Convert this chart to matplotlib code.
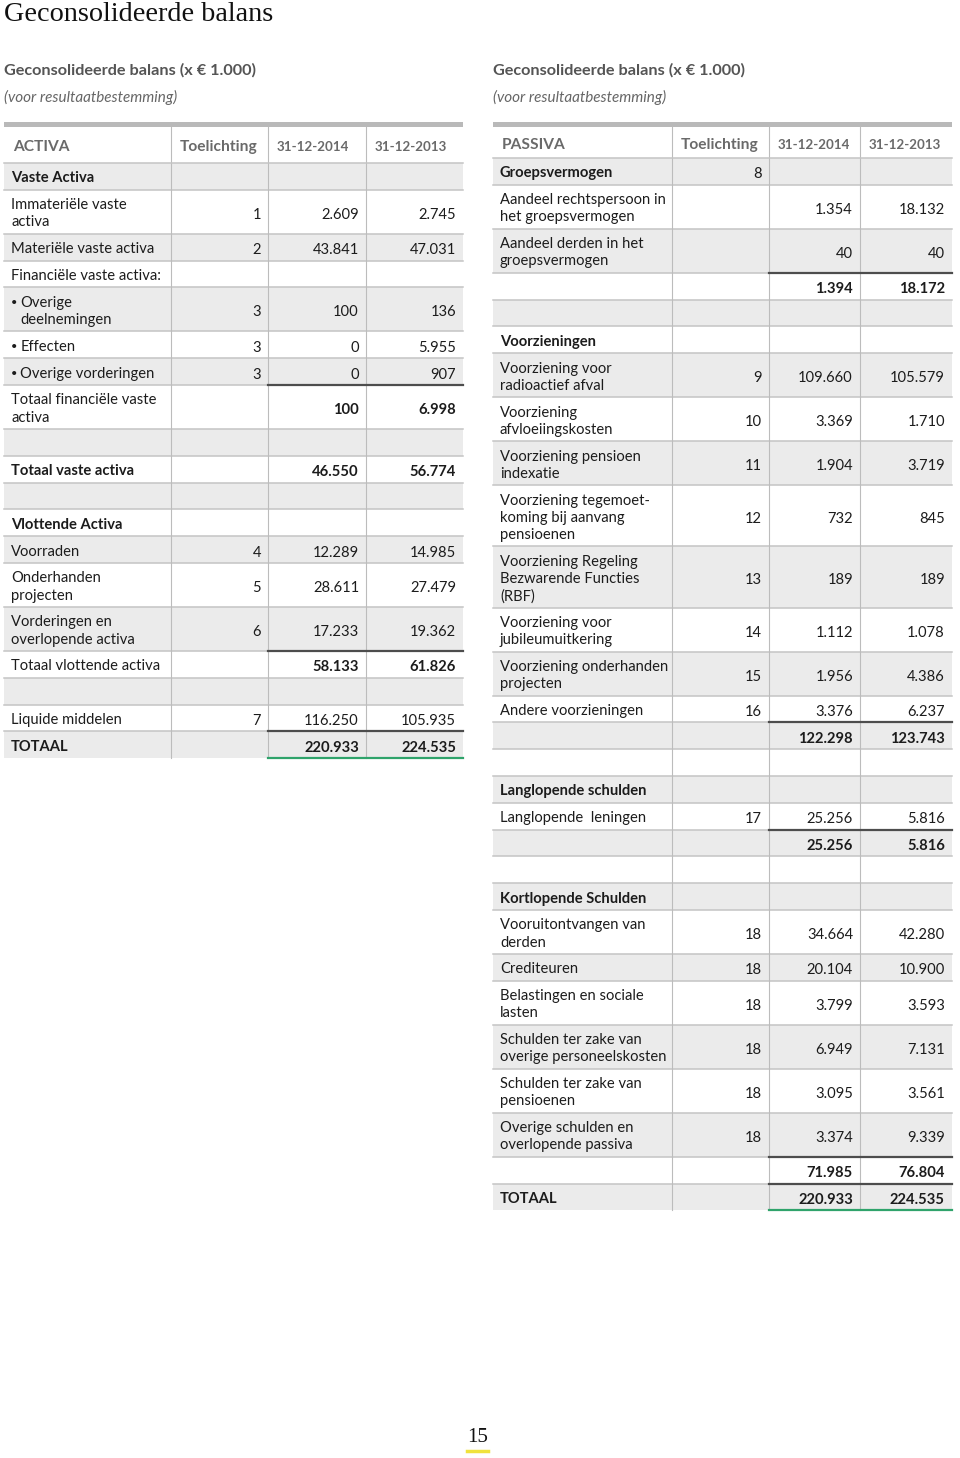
import numpy as np
import matplotlib.pyplot as plt
from matplotlib.patches import Rectangle

plt.rcParams['font.family'] = ['Lato', 'DejaVu Sans']

# ---- data: ACTIVA ----
activa_labels = ["Vaste Activa", "Immateriële vaste\nactiva", "Materiële vaste activa",
                 "Financiële vaste activa:", "• Overige\ndeelnemingen", "• Effecten",
                 "• Overige vorderingen", "Totaal financiële vaste\nactiva", "",
                 "Totaal vaste activa", "", "Vlottende Activa", "Voorraden",
                 "Onderhanden\nprojecten", "Vorderingen en\noverlopende activa",
                 "Totaal vlottende activa", "", "Liquide middelen", "TOTAAL"]
activa_notes = ["", "1", "2", "", "3", "3", "3", "", "", "", "", "", "4", "5", "6",
                "", "", "7", ""]
activa_2014 = ["", "2.609", "43.841", "", "100", "0", "0", "100", "", "46.550", "", "",
               "12.289", "28.611", "17.233", "58.133", "", "116.250", "220.933"]
activa_2013 = ["", "2.745", "47.031", "", "136", "5.955", "907", "6.998", "", "56.774", "", "",
               "14.985", "27.479", "19.362", "61.826", "", "105.935", "224.535"]
# head = bold label, sum = bold values, total = bold label and values
activa_kind = ["head", "item", "item", "item", "item", "item", "item", "sum", "blank",
               "total", "blank", "head", "item", "item", "item", "sum", "blank", "item", "total"]
activa_rules = [6, 14, 17]

# ---- data: PASSIVA ----
passiva_labels = ["Groepsvermogen", "Aandeel rechtspersoon in\nhet groepsvermogen",
                  "Aandeel derden in het\ngroepsvermogen", "", "", "Voorzieningen",
                  "Voorziening voor\nradioactief afval", "Voorziening\nafvloeiingskosten",
                  "Voorziening pensioen\nindexatie",
                  "Voorziening tegemoet-\nkoming bij aanvang\npensioenen",
                  "Voorziening Regeling\nBezwarende Functies\n(RBF)",
                  "Voorziening voor\njubileumuitkering", "Voorziening onderhanden\nprojecten",
                  "Andere voorzieningen", "", "", "Langlopende schulden",
                  "Langlopende  leningen", "", "", "Kortlopende Schulden",
                  "Vooruitontvangen van\nderden", "Crediteuren", "Belastingen en sociale\nlasten",
                  "Schulden ter zake van\noverige personeelskosten",
                  "Schulden ter zake van\npensioenen", "Overige schulden en\noverlopende passiva",
                  "", "TOTAAL"]
passiva_notes = ["8", "", "", "", "", "", "9", "10", "11", "12", "13", "14", "15", "16",
                 "", "", "", "17", "", "", "", "18", "18", "18", "18", "18", "18", "", ""]
passiva_2014 = ["", "1.354", "40", "1.394", "", "", "109.660", "3.369", "1.904", "732", "189",
                "1.112", "1.956", "3.376", "122.298", "", "", "25.256", "25.256", "", "",
                "34.664", "20.104", "3.799", "6.949", "3.095", "3.374", "71.985", "220.933"]
passiva_2013 = ["", "18.132", "40", "18.172", "", "", "105.579", "1.710", "3.719", "845", "189",
                "1.078", "4.386", "6.237", "123.743", "", "", "5.816", "5.816", "", "",
                "42.280", "10.900", "3.593", "7.131", "3.561", "9.339", "76.804", "224.535"]
passiva_kind = ["head", "item", "item", "sum", "blank", "head", "item", "item", "item", "item",
                "item", "item", "item", "item", "sum", "blank", "head", "item", "sum", "blank",
                "head", "item", "item", "item", "item", "item", "item", "sum", "total"]
passiva_rules = [2, 13, 17, 26, 27]

headers_activa = ["ACTIVA", "Toelichting", "31-12-2014", "31-12-2013"]
headers_passiva = ["PASSIVA", "Toelichting", "31-12-2014", "31-12-2013"]

TXT = "#1c1c1c"
HDR = "#6a6a6a"
SHADE = "#ebebeb"
SEP = "#c4c4c4"
FS = 10.6

fig = plt.figure(figsize=(9.6, 14.58), dpi=100)
ax = fig.add_axes([0, 0, 1, 1])
ax.set_xlim(0, 960)
ax.set_ylim(1458, 0)
ax.axis("off")


def row_height(label):
    return 26.8 + 17.2 * label.count("\n")


def draw_table(cols, header_h, headers, labels, notes, v1, v2, kinds, rules):
    top = 127
    x0, x4 = cols[0], cols[-1]
    ax.add_patch(Rectangle((x0, top - 5.5), x4 - x0, 5.5, color="#b9b9b9", lw=0))
    for j, h in enumerate(headers):
        ax.text(cols[j] + 9, top + header_h / 2 + 2, h,
                fontsize=11.2 if j < 2 else 9.6, fontweight="bold",
                color=HDR, ha="left", va="center")
    y = top + header_h
    ax.plot([x0, x4], [y, y], color=SEP, lw=1.1)
    for i, lab in enumerate(labels):
        h = row_height(lab)
        if i % 2 == 0:
            ax.add_patch(Rectangle((x0, y), x4 - x0, h, color=SHADE, lw=0, zorder=0))
        yc = y + h / 2 + 2
        lines = lab.split("\n")
        bold_lab = kinds[i] in ("head", "total")
        bold_val = kinds[i] in ("sum", "total")
        for k, ln in enumerate(lines):
            yl = yc + (k - (len(lines) - 1) / 2) * 17.2
            xl = cols[0] + 7
            if lab.startswith("• "):
                if k == 0:
                    ax.text(xl + 3.5, yl, "•", fontsize=FS - 2.5, color=TXT,
                            ha="center", va="center")
                    ln = ln[2:]
                xl += 9.5
            ax.text(xl, yl, ln, fontsize=FS, color=TXT, ha="left", va="center",
                    fontweight="bold" if bold_lab else "normal")
        ax.text(cols[2] - 7, yc + 1, notes[i], fontsize=FS, color=TXT, ha="right", va="center")
        ax.text(cols[3] - 7, yc + 1, v1[i], fontsize=FS, color=TXT, ha="right", va="center",
                fontweight="bold" if bold_val else "normal")
        ax.text(cols[4] - 7, yc + 1, v2[i], fontsize=FS, color=TXT, ha="right", va="center",
                fontweight="bold" if bold_val else "normal")
        y += h
        if i < len(labels) - 1:
            ax.plot([x0, x4], [y, y], color=SEP, lw=1.1, zorder=1)
        if i in rules:
            ax.plot([cols[2], x4], [y, y], color="#4d4d4d", lw=1.6, zorder=2)
    ax.plot([cols[2], x4], [y, y], color="#2fa36b", lw=1.6, zorder=2)
    for c in cols[1:4]:
        ax.plot([c, c], [top, y], color="#bcbcbc", lw=0.8, zorder=1)


# page title and captions
ax.text(4, 14, "Geconsolideerde balans", fontsize=20.3, family="Liberation Serif",
        color="#111111", ha="left", va="center")
for x in (4, 493):
    ax.text(x, 70, "Geconsolideerde balans (x € 1.000)", fontsize=11.7, fontweight="bold",
            color="#555555", ha="left", va="center")
    ax.text(x, 97, "(voor resultaatbestemming)", fontsize=11, style="italic",
            color="#666666", ha="left", va="center")

draw_table([4, 171, 268, 366, 463], 36, headers_activa, activa_labels, activa_notes,
           activa_2014, activa_2013, activa_kind, activa_rules)
draw_table([493, 672, 769, 860, 952], 31, headers_passiva, passiva_labels, passiva_notes,
           passiva_2014, passiva_2013, passiva_kind, passiva_rules)

# page number
ax.text(478, 1437, "15", fontsize=15, family="Liberation Serif", color="#111111",
        ha="center", va="center")
ax.plot([467, 488], [1451, 1451], color="#f0e23c", lw=2.5)

fig.savefig("out.png", dpi=100)
